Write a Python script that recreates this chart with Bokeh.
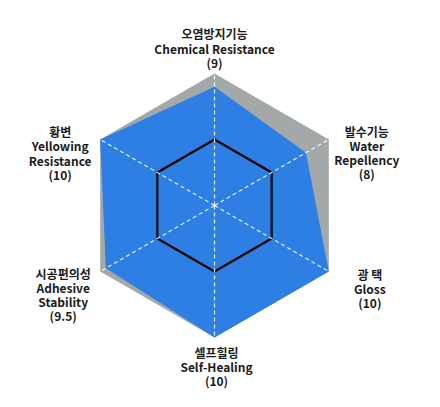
import numpy as np
from bokeh.plotting import figure
from bokeh.models import Range1d
from bokeh.core.properties import value
from bokeh.embed import file_html
from bokeh.resources import INLINE

# ---- data ----
korean = ["오염방지기능", "발수기능", "광 택", "셀프힐링", "시공편의성", "황변"]
english = [["Chemical Resistance"], ["Water", "Repellency"], ["Gloss"], ["Self-Healing"],
           ["Adhesive", "Stability"], ["Yellowing", "Resistance"]]
scores = [9, 8, 10, 10, 9.5, 10]
score_text = ["9", "8", "10", "10", "9.5", "10"]
max_score = [10, 10, 10, 10, 10, 10]
grid_level = 5

# ---- geometry ----
PX = 13.2  # pixels per unit
angles = np.deg2rad([90, 30, -30, -90, -150, 150])

W, H = 424, 391
cx, cy = 214, 205  # center in canvas pixels
p = figure(width=W, height=H, output_backend="svg", toolbar_location=None,
           x_range=Range1d(-cx / PX, (W - cx) / PX),
           y_range=Range1d(-(H - cy) / PX, cy / PX),
           min_border=0)
p.axis.visible = False
p.grid.visible = False
p.outline_line_color = None
p.background_fill_color = "white"

def pts(vals):
    v = np.asarray(vals, dtype=float)
    return list(v * np.cos(angles)), list(v * np.sin(angles))

gx, gy = pts(max_score)
p.patch(gx, gy, fill_color="#A3A9A9", line_color=None)
bx, by = pts(scores)
p.patch(bx, by, fill_color="#2D7FE3", line_color=None)
hx, hy = pts([grid_level] * 6)
p.patch(hx, hy, fill_color=None, line_color="black", line_width=2.2)

# spokes
p.segment(x0=[0] * 6, y0=[0] * 6, x1=gx, y1=gy, line_color="white",
          line_width=1.2, line_dash="4 3", line_alpha=0.9)

# labels (block-centre offsets in pixels from each outer vertex)
offsets = [(0, -25.5), (38, 13), (41, 17), (2, 29), (-37, 23), (-40, 13.5)]
LINE = 14.2
lx, ly, lt = [], [], []
for i in range(6):
    lines = [korean[i]] + english[i] + [f"({score_text[i]})"]
    n = len(lines)
    dx, dy = offsets[i]
    for j, s in enumerate(lines):
        yy = dy + (j - (n - 1) / 2) * LINE
        lx.append(gx[i] + dx / PX)
        ly.append(gy[i] - yy / PX)
        lt.append(s)
p.text(x=lx, y=ly, text=lt, text_align="center", text_baseline="middle",
       text_font=value("Noto Sans CJK KR"), text_font_style="bold",
       text_font_size="12px", text_color="#1a1a1a")

open("out.html", "w").write(file_html(p, INLINE))
